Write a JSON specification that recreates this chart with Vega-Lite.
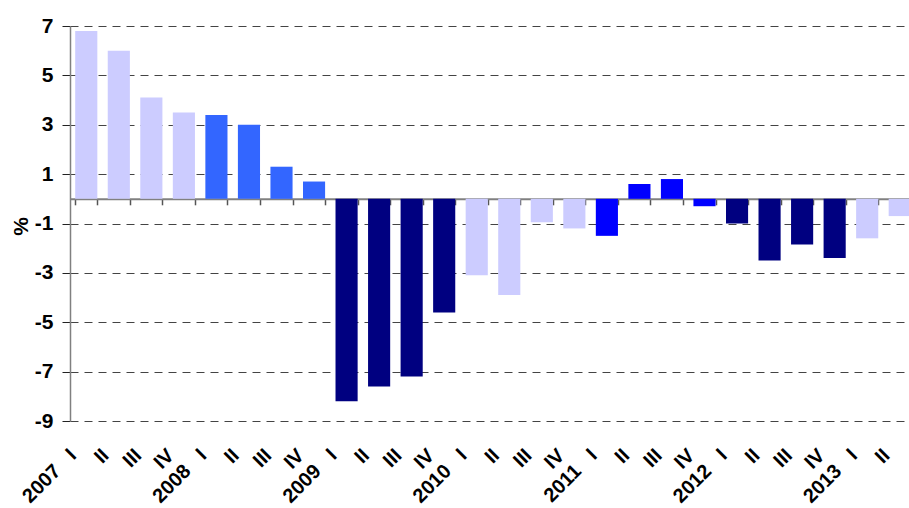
{
  "$schema": "https://vega.github.io/schema/vega-lite/v6.json",
  "width": 846,
  "height": 395,
  "autosize": "none",
  "padding": {"left": 70, "top": 26, "right": 0, "bottom": 87},
  "background": "white",
  "config": {"view": {"stroke": null}, "font": "Liberation Sans"},
  "data": {"values": [
    {"q": "2007 I", "v": 6.8, "g": "A"},
    {"q": "2007 II", "v": 6.0, "g": "A"},
    {"q": "2007 III", "v": 4.1, "g": "A"},
    {"q": "2007 IV", "v": 3.5, "g": "A"},
    {"q": "2008 I", "v": 3.4, "g": "B"},
    {"q": "2008 II", "v": 3.0, "g": "B"},
    {"q": "2008 III", "v": 1.3, "g": "B"},
    {"q": "2008 IV", "v": 0.7, "g": "B"},
    {"q": "2009 I", "v": -8.2, "g": "C"},
    {"q": "2009 II", "v": -7.6, "g": "C"},
    {"q": "2009 III", "v": -7.2, "g": "C"},
    {"q": "2009 IV", "v": -4.6, "g": "C"},
    {"q": "2010 I", "v": -3.1, "g": "A"},
    {"q": "2010 II", "v": -3.9, "g": "A"},
    {"q": "2010 III", "v": -0.95, "g": "A"},
    {"q": "2010 IV", "v": -1.2, "g": "A"},
    {"q": "2011 I", "v": -1.5, "g": "D"},
    {"q": "2011 II", "v": 0.6, "g": "D"},
    {"q": "2011 III", "v": 0.8, "g": "D"},
    {"q": "2011 IV", "v": -0.3, "g": "D"},
    {"q": "2012 I", "v": -1.0, "g": "C"},
    {"q": "2012 II", "v": -2.5, "g": "C"},
    {"q": "2012 III", "v": -1.85, "g": "C"},
    {"q": "2012 IV", "v": -2.4, "g": "C"},
    {"q": "2013 I", "v": -1.6, "g": "A"},
    {"q": "2013 II", "v": -0.7, "g": "A"}
  ]},
  "resolve": {"axis": {"x": "independent"}},
  "layer": [
    {
      "mark": {"type": "bar"},
      "encoding": {
        "x": {
          "field": "q", "type": "nominal", "sort": null,
          "scale": {"paddingInner": 0.32, "paddingOuter": 0.16},
          "axis": {
            "orient": "bottom", "title": null, "domain": false, "ticks": false, "grid": false,
            "labelAngle": -45, "labelAlign": "right", "labelBaseline": "middle",
            "labelFont": "Liberation Sans", "labelFontSize": 20, "labelFontWeight": "bold",
            "labelColor": "black", "labelPadding": 31, "labelOffset": -13,
            "labelExpr": "split(datum.value, ' ')[1] == 'I' ? split(datum.value, ' ')[0] + '\u00a0\u00a0 I' : split(datum.value, ' ')[1]"
          }
        },
        "y": {
          "field": "v", "type": "quantitative",
          "scale": {"domain": [-9, 7], "nice": false, "zero": false},
          "axis": {
            "values": [-9, -7, -5, -3, -1, 1, 3, 5, 7],
            "labelExpr": "replace(datum.label, '\u2212', '-')",
            "grid": true, "gridDash": [8, 6], "gridColor": "#444", "gridWidth": 1, "gridOpacity": 1,
            "domain": true, "domainColor": "#808080", "domainWidth": 1.5,
            "ticks": true, "tickSize": 8, "tickColor": "#222", "tickWidth": 1,
            "labelFont": "Liberation Sans", "labelFontSize": 21, "labelFontWeight": "bold",
            "labelColor": "black", "labelPadding": 9,
            "title": "%", "titleFont": "Liberation Sans", "titleFontSize": 21, "titleFontWeight": "bold",
            "titleColor": "black", "titleX": -49, "titleY": 200, "titleAngle": -90,
            "titleAlign": "center", "titleBaseline": "middle"
          }
        },
        "color": {
          "field": "g", "type": "nominal", "legend": null,
          "scale": {"domain": ["A", "B", "C", "D"], "range": ["#CCCCFF", "#3366FF", "#000080", "#0000FF"]}
        }
      }
    },
    {
      "mark": {"type": "bar", "opacity": 0},
      "encoding": {
        "x": {
          "field": "q", "type": "nominal", "sort": null,
          "axis": {
            "orient": "bottom", "offset": -222.2, "title": null, "labels": false, "grid": false,
            "domain": true, "domainColor": "#808080", "domainWidth": 2,
            "ticks": true, "tickBand": "extent", "tickSize": 6, "tickColor": "#555", "tickWidth": 1.5
          }
        },
        "y": {"field": "v", "type": "quantitative"}
      }
    }
  ]
}
